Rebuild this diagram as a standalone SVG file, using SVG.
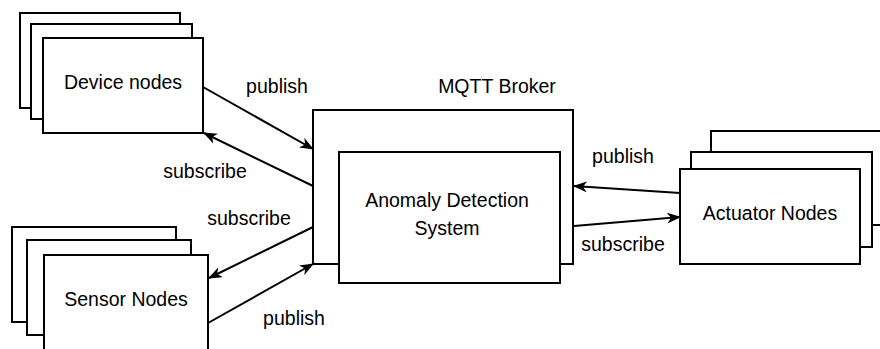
<svg xmlns="http://www.w3.org/2000/svg" width="880" height="349" viewBox="0 0 880 349">
  <style>
    .box { fill: #ffffff; stroke: #000000; stroke-width: 2; }
    .edge { fill: none; stroke: #000000; stroke-width: 2; marker-end: url(#arrow); }
    text { font-family: "Liberation Sans", Arial, Helvetica, sans-serif; font-size: 19.5px; fill: #000000; text-anchor: middle; }
  </style>
  <defs>
    <marker id="arrow" viewBox="0 0 14 11" refX="13" refY="5.5" markerWidth="14" markerHeight="11" markerUnits="userSpaceOnUse" orient="auto">
      <path d="M0,0 L14,5.5 L0,11 L4,5.5 Z" fill="#000000"/>
    </marker>
  </defs>

  <!-- stacked device nodes -->
  <g id="device-nodes">
    <rect class="box" x="20" y="13" width="160" height="95"/>
    <rect class="box" x="31" y="24" width="161" height="95"/>
    <rect class="box" x="43" y="38" width="160" height="95"/>
    <text x="123" y="89">Device nodes</text>
  </g>

  <!-- stacked sensor nodes -->
  <g id="sensor-nodes">
    <rect class="box" x="12" y="227" width="164" height="95"/>
    <rect class="box" x="27" y="240" width="164" height="95"/>
    <rect class="box" x="44" y="255" width="164" height="100"/>
    <text x="126" y="306">Sensor Nodes</text>
  </g>

  <!-- broker with the detection system inside -->
  <g id="mqtt-broker">
    <rect class="box" x="313" y="110" width="260" height="154"/>
    <text x="497" y="93">MQTT Broker</text>
  </g>
  <g id="anomaly-detection">
    <rect class="box" x="339" y="152" width="221" height="131"/>
    <text x="447" y="207">Anomaly Detection</text>
    <text x="447" y="235">System</text>
  </g>

  <!-- stacked actuator nodes -->
  <g id="actuator-nodes">
    <rect class="box" x="711" y="131" width="190" height="94"/>
    <rect class="box" x="691" y="152" width="181" height="95"/>
    <rect class="box" x="680" y="169" width="180" height="95"/>
    <text x="770" y="220">Actuator Nodes</text>
  </g>

  <!-- publish / subscribe flows -->
  <g id="connectors">
    <line class="edge" x1="203" y1="87" x2="313" y2="149"/>
    <line class="edge" x1="313" y1="186" x2="204" y2="133"/>
    <line class="edge" x1="313" y1="227" x2="209" y2="278"/>
    <line class="edge" x1="208" y1="323" x2="313" y2="264"/>
    <line class="edge" x1="680" y1="193" x2="574" y2="186"/>
    <line class="edge" x1="574" y1="226" x2="680" y2="217"/>
    <text x="277" y="93">publish</text>
    <text x="205" y="178">subscribe</text>
    <text x="249" y="225">subscribe</text>
    <text x="294" y="325">publish</text>
    <text x="623" y="163">publish</text>
    <text x="623" y="251">subscribe</text>
  </g>
</svg>
